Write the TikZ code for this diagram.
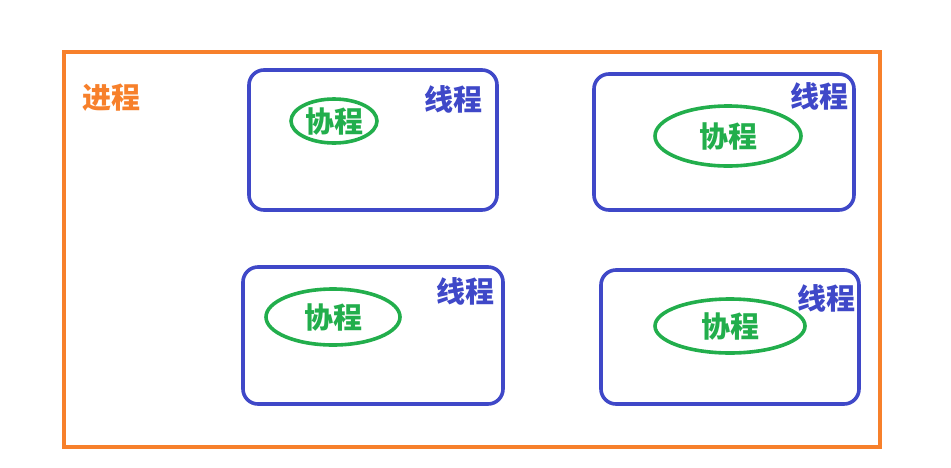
\documentclass[tikz,border=0pt]{standalone}
\usepackage{fontspec}
\newfontfamily\cjk{Noto Sans CJK SC}
\usepackage{tikz}
\usetikzlibrary{shapes.geometric}
\usetikzlibrary{positioning}
\usepackage{xcolor}
\definecolor{procorange}{HTML}{F7802B}
\definecolor{threadblue}{HTML}{3F48C8}
\definecolor{corogreen}{HTML}{22AE4C}

\begin{document}
\begin{tikzpicture}[x=1pt, y=-1pt,
    cjktext/.style={font=\cjk\bfseries\fontsize{29}{34}\selectfont, inner sep=0pt},
    process/.style={draw=procorange, line width=4pt, minimum width=816pt, minimum height=395pt, inner sep=0pt},
    thread/.style={draw=threadblue, line width=3.6pt, rounded corners=15pt, inner sep=0pt},
    coroutine/.style={ellipse, draw=corogreen, line width=3.6pt, text=corogreen, cjktext}
]
    % 0. Fix the picture size
    \useasboundingbox (0,0) rectangle (951,467);

    % 1. The process frame and its label
    \node[process] (proc) at (472,249.5) {};
    \node[cjktext, text=procorange] (proclabel) at (111,98) {进程};

    % 2. The four threads
    \node[thread, minimum width=248pt, minimum height=140pt] (threadA) at (373,140) {};
    \node[thread, minimum width=260pt, minimum height=136pt] (threadB) at (724,142) {};
    \node[thread, minimum width=260pt, minimum height=137pt] (threadC) at (373,335.5) {};
    \node[thread, minimum width=258pt, minimum height=134pt] (threadD) at (730,337) {};

    % 3. Thread labels
    \node[cjktext, text=threadblue] (labelA) at (453,99) {线程};
    \node[cjktext, text=threadblue] (labelB) at (819,96) {线程};
    \node[cjktext, text=threadblue] (labelC) at (465,291) {线程};
    \node[cjktext, text=threadblue] (labelD) at (826,298) {线程};

    % 4. One coroutine inside each thread
    \node[coroutine, minimum width=86pt, minimum height=44pt] (coroA) at (334,121) {协程};
    \node[coroutine, minimum width=146pt, minimum height=60pt] (coroB) at (728,136) {协程};
    \node[coroutine, minimum width=134pt, minimum height=56pt] (coroC) at (333,317) {协程};
    \node[coroutine, minimum width=150pt, minimum height=54pt] (coroD) at (730,326) {协程};

\end{tikzpicture}
\end{document}
